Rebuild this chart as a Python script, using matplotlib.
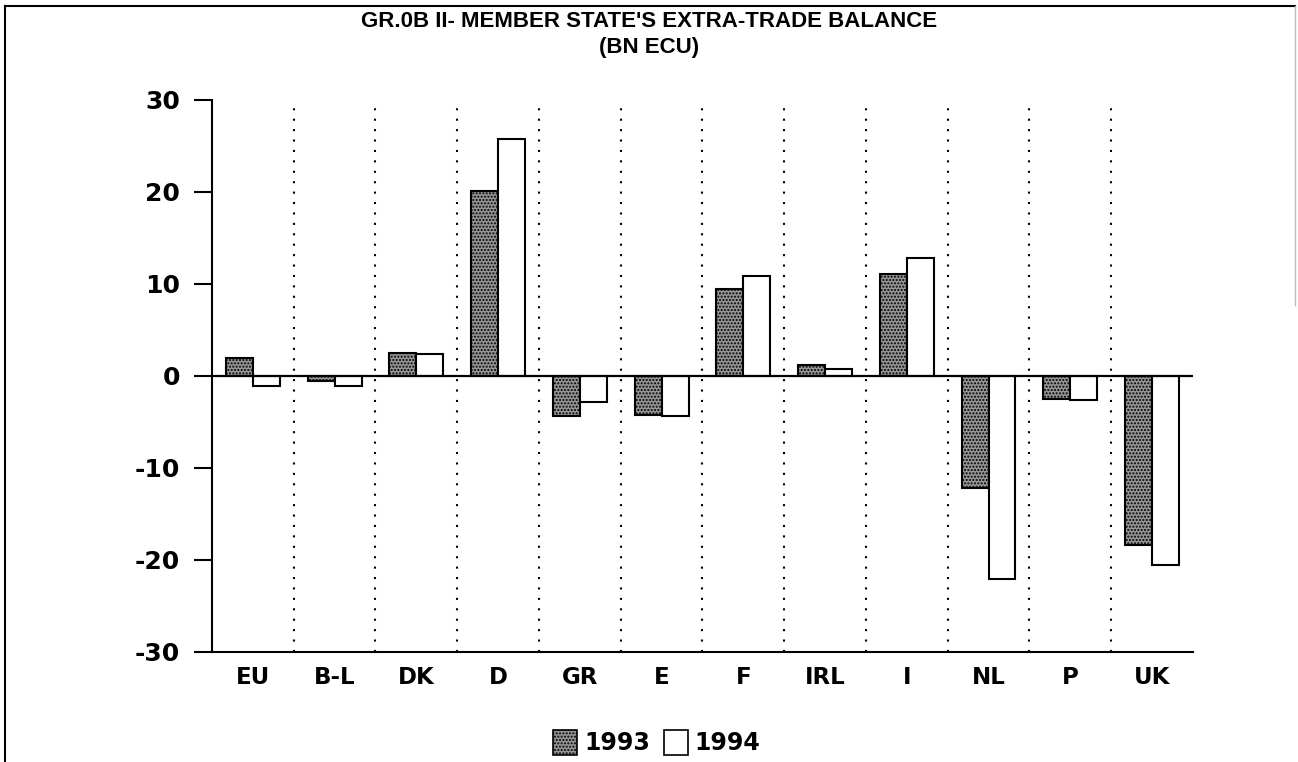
import numpy as np
import matplotlib.pyplot as plt
from matplotlib.lines import Line2D
from matplotlib.patches import Patch

countries = ['EU', 'B-L', 'DK', 'D', 'GR', 'E', 'F', 'IRL', 'I', 'NL', 'P', 'UK']
y1993 = [2.0, -0.6, 2.5, 20.1, -4.3, -4.2, 9.4, 1.2, 11.1, -12.2, -2.5, -18.4]
y1994 = [-1.1, -1.1, 2.4, 25.8, -2.8, -4.4, 10.9, 0.8, 12.8, -22.1, -2.6, -20.6]
yticks = [-30, -20, -10, 0, 10, 20, 30]

FONT = 'DejaVu Sans'
STIPPLE = '#969696'


def plot_balance():
    fig = plt.figure(figsize=(12.98, 7.62), dpi=100)
    ax = fig.add_axes([0.1633, 0.1444, 0.7557, 0.7244])

    x = np.arange(len(countries))
    w = 0.33
    ax.bar(x - w / 2, y1993, w, facecolor=STIPPLE, edgecolor='black',
           hatch='.....', linewidth=1.5, zorder=3)
    ax.bar(x + w / 2, y1994, w, facecolor='white', edgecolor='black',
           linewidth=1.5, zorder=3)

    # dotted separators between countries
    for sep in np.arange(0.5, len(countries) - 1, 1.0):
        ax.axvline(sep, color='black', linestyle=(0, (1, 4)), linewidth=1.5, zorder=1)
    ax.axhline(0, color='black', linewidth=1.6, zorder=4)

    ax.set_xlim(-0.5, len(countries) - 0.5)
    ax.set_ylim(-30, 30)
    ax.set_yticks(yticks)
    ax.set_yticklabels([str(t) for t in yticks], fontsize=18, fontweight='bold', family=FONT)
    ax.set_xticks(x)
    ax.set_xticklabels(countries, fontsize=16.5, fontweight='bold', family=FONT)
    ax.tick_params(axis='y', direction='out', length=13, width=1.5, pad=10)
    ax.tick_params(axis='x', length=0, pad=10)
    for side in ['top', 'right']:
        ax.spines[side].set_visible(False)
    for side in ['left', 'bottom']:
        ax.spines[side].set_linewidth(1.5)

    fig.text(0.5, 0.986, "GR.0B II- MEMBER STATE'S EXTRA-TRADE BALANCE",
             ha='center', va='top', fontsize=16, fontweight='bold', family='Liberation Sans')
    fig.text(0.5, 0.952, "(BN ECU)", ha='center', va='top', fontsize=16,
             fontweight='bold', family='Liberation Sans')

    handles = [Patch(facecolor=STIPPLE, edgecolor='black', hatch='.....', linewidth=1.2),
               Patch(facecolor='white', edgecolor='black', linewidth=1.2)]
    fig.legend(handles, ['1993', '1994'], loc='center', bbox_to_anchor=(0.506, 0.025),
               ncol=2, frameon=False, prop={'family': FONT, 'weight': 'bold', 'size': 17},
               handlelength=1.0, handleheight=1.2, handletextpad=0.3, columnspacing=0.6)

    # page border
    fig.add_artist(Line2D([0.004, 0.004], [0, 0.992], transform=fig.transFigure,
                          color='black', linewidth=1.5))
    fig.add_artist(Line2D([0.004, 0.998], [0.992, 0.992], transform=fig.transFigure,
                          color='black', linewidth=1.5))
    fig.add_artist(Line2D([0.998, 0.998], [0.6, 0.992], transform=fig.transFigure,
                          color='#bbbbbb', linewidth=1.0))

    fig.savefig('out.png', dpi=100)


def main():
    plot_balance()


if __name__ == "__main__":
    main()
